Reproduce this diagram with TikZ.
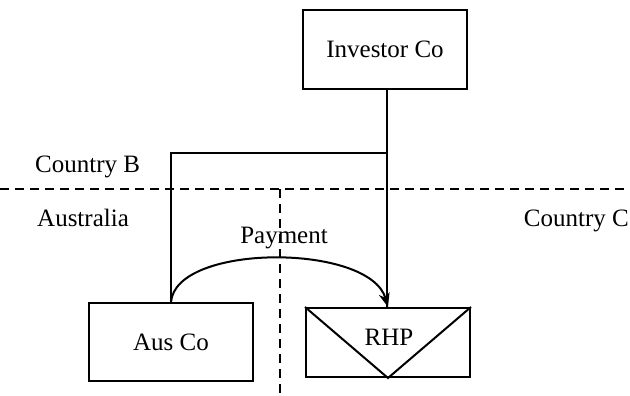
\documentclass[tikz,border=0pt]{standalone}
\usepackage{fontspec}
\setmainfont{Liberation Serif}
\usetikzlibrary{arrows.meta}
\begin{document}
\begin{tikzpicture}[x=1pt,y=-1pt,
  lbl/.style={font=\fontsize{25}{29}\selectfont, inner sep=0pt},
  box/.style={draw, line width=2pt, rectangle, inner sep=0pt, font=\fontsize{25}{29}\selectfont},
  conn/.style={line width=2pt},
  border/.style={dash pattern=on 9pt off 6pt, line width=2pt}]
\useasboundingbox (0,0) rectangle (630,396);
\node[box, minimum width=164pt, minimum height=79pt] (inv) at (385,49.5) {Investor Co};
\node[box, minimum width=164pt, minimum height=78pt] (aus) at (171,342) {Aus Co};
\node[box, minimum width=164pt, minimum height=69pt] (rhp) at (388,342.5) {};
\node[lbl, anchor=base] (rhpt) at (389,345) {RHP};
\draw[conn] (rhp.north west) -- (rhp.south) -- (rhp.north east);
\coordinate (jt) at (387,153);
\coordinate (hl) at (0,189);
\coordinate (hr) at (630,189);
\coordinate (vt) at (280,189);
\coordinate (vb) at (280,396);
\draw[border] (hl) -- (hr);
\draw[border] (vt) -- (vb);
\draw[conn] (inv.south -| jt) -- (jt) -- (jt -| aus.north) -- (aus.north);
\draw[conn] (jt) -- (rhp.north -| jt);
\draw[conn, -{Stealth[length=14pt,width=11pt]}] (aus.north) .. controls (176,243) and (370,243) .. (rhp.north);
\node[lbl, anchor=base] (pay) at (284,243) {Payment};
\node[lbl, anchor=base west] (cb) at (35,172) {Country B};
\node[lbl, anchor=base west] (au) at (37,226) {Australia};
\node[lbl, anchor=base east] (cc) at (629,226) {Country C};
\end{tikzpicture}
\end{document}
